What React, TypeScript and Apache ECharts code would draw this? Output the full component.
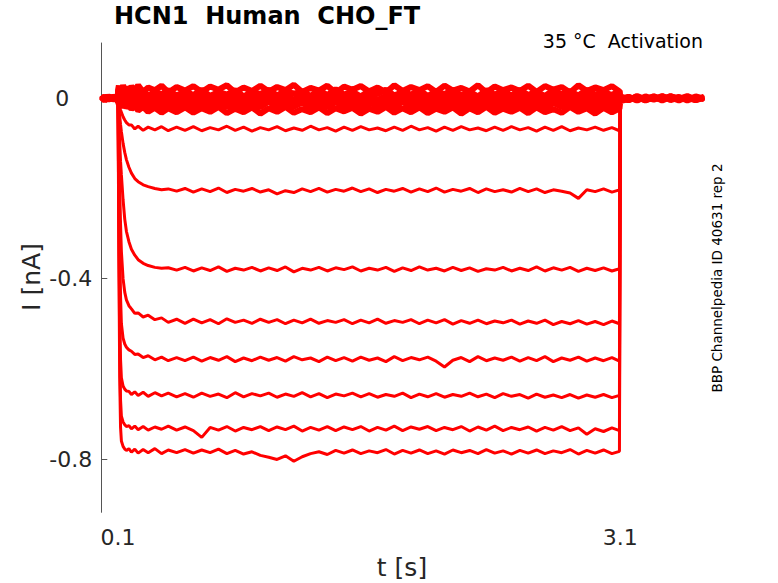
import React, { useEffect, useRef } from "react";
import * as echarts from "echarts";

// time samples [s]
const PRE_T = [0, 0.02, 0.04, 0.06, 0.08, 0.099];
const ONSET_T = [0.1, 0.105, 0.11, 0.115, 0.12, 0.13, 0.14, 0.15, 0.165, 0.18, 0.2, 0.22, 0.25, 0.28, 0.32, 0.36, 0.4, 0.45];
const PLATEAU_T = [
  0.5, 0.55, 0.6, 0.65, 0.7, 0.75, 0.8, 0.85, 0.9, 0.95,
  1.0, 1.05, 1.1, 1.15, 1.2, 1.25, 1.3, 1.35, 1.4, 1.45,
  1.5, 1.55, 1.6, 1.65, 1.7, 1.75, 1.8, 1.85, 1.9, 1.95,
  2.0, 2.05, 2.1, 2.15, 2.2, 2.25, 2.3, 2.35, 2.4, 2.45,
  2.5, 2.55, 2.6, 2.65, 2.7, 2.75, 2.8, 2.85, 2.9, 2.95,
  3.0, 3.05, 3.095,
];
const POST_T = [3.1, 3.15, 3.2, 3.25, 3.3, 3.35, 3.4, 3.45, 3.5, 3.55, 3.6];
const T = [...PRE_T, ...ONSET_T, ...PLATEAU_T, ...POST_T];

// currents [nA]
const Z1 = [
  0.004, -0.003, 0.005, -0.002, 0.003, 0.001,
  0.018, 0.028, 0.014, 0.026, 0.015, 0.029, 0.017, 0.025, 0.013,
  0.027, 0.016, 0.029, 0.014, 0.024, 0.018, 0.028, 0.013, 0.025,
  0.017, 0.027, 0.014, 0.026, 0.019, 0.029, 0.013, 0.024, 0.016, 0.028,
  0.015, 0.025, 0.018, 0.030, 0.014, 0.023, 0.017, 0.028, 0.012, 0.026,
  0.019, 0.027, 0.015, 0.024, 0.013, 0.029, 0.016, 0.025, 0.018, 0.027,
  0.014, 0.028, 0.017, 0.023, 0.015, 0.029, 0.013, 0.026, 0.018, 0.024,
  0.016, 0.028, 0.014, 0.027, 0.019, 0.025, 0.013, 0.029, 0.016, 0.024,
  0.018, 0.027, 0.015,
  0.002, -0.004, 0.005, -0.002, 0.004, -0.005, 0.003, -0.001, 0.005, -0.003, 0.002,
];
const Z2 = [
  -0.002, 0.004, -0.004, 0.003, -0.001, 0.002,
  0.008, 0.017, 0.006, 0.018, 0.009, 0.016, 0.005, 0.019, 0.010,
  0.006, 0.017, 0.008, 0.019, 0.005, 0.015, 0.009, 0.018, 0.006,
  0.016, 0.007, 0.019, 0.005, 0.014, 0.008, 0.018, 0.004, 0.015, 0.009,
  0.019, 0.006, 0.017, 0.010, 0.016, 0.005, 0.018, 0.007, 0.020, 0.008,
  0.015, 0.004, 0.017, 0.009, 0.019, 0.006, 0.014, 0.008, 0.018, 0.005,
  0.016, 0.009, 0.019, 0.006, 0.015, 0.004, 0.018, 0.008, 0.017, 0.006,
  0.019, 0.007, 0.015, 0.005, 0.018, 0.009, 0.016, 0.006, 0.019, 0.008,
  0.014, 0.007, 0.017,
  -0.003, 0.003, -0.005, 0.004, -0.002, 0.005, -0.004, 0.002, -0.003, 0.004, -0.001,
];
const Z3 = [
  0.003, -0.005, 0.002, -0.003, 0.005, -0.001,
  0.007, -0.004, 0.009, -0.002, 0.006, -0.005, 0.008, -0.001, 0.010,
  -0.004, 0.007, -0.003, 0.009, -0.005, 0.006, -0.002, 0.010, -0.004,
  0.008, -0.003, 0.010, -0.005, 0.006, -0.002, 0.009, -0.004, 0.007, -0.001,
  0.010, -0.005, 0.006, -0.003, 0.009, -0.002, 0.011, -0.004, 0.007, -0.005,
  0.008, -0.001, 0.010, -0.004, 0.006, -0.006, 0.009, -0.002, 0.007, -0.004,
  0.011, -0.003, 0.008, -0.005, 0.006, -0.001, 0.010, -0.004, 0.007, -0.002,
  0.009, -0.005, 0.006, -0.003, 0.010, -0.002, 0.008, -0.006, 0.007, -0.001,
  0.009, -0.004, 0.006,
  0.004, -0.002, 0.003, -0.005, 0.002, -0.003, 0.005, -0.002, 0.003, -0.004, 0.001,
];
const Z4 = [
  -0.004, 0.002, -0.003, 0.004, -0.002, 0.001,
  -0.010, -0.001, -0.012, 0.000, -0.009, -0.013, -0.002, -0.011, 0.001,
  -0.012, -0.003, -0.010, 0.001, -0.013, -0.002, -0.011, -0.001, -0.014,
  -0.002, -0.012, 0.001, -0.010, -0.003, -0.013, 0.000, -0.009, -0.002, -0.014,
  -0.001, -0.011, 0.002, -0.012, -0.003, -0.010, 0.000, -0.013, -0.002, -0.011,
  0.001, -0.012, -0.003, -0.014, -0.001, -0.010, 0.002, -0.011, -0.002, -0.013,
  0.000, -0.012, -0.003, -0.010, 0.001, -0.013, -0.002, -0.011, 0.000, -0.014,
  -0.001, -0.010, 0.002, -0.012, -0.003, -0.013, 0.000, -0.011, -0.002, -0.012,
  0.001, -0.010, -0.003,
  -0.002, 0.003, -0.004, 0.002, -0.003, 0.004, -0.001, 0.003, -0.005, 0.002, -0.002,
];
const Z5 = [
  0.002, -0.004, 0.003, -0.002, 0.004, -0.003,
  -0.006, -0.014, -0.008, -0.019, -0.010, -0.021, -0.011, -0.019, -0.012,
  -0.022, -0.010, -0.020, -0.012, -0.023, -0.009, -0.021, -0.011, -0.022,
  -0.009, -0.021, -0.011, -0.023, -0.008, -0.019, -0.012, -0.022, -0.010, -0.020,
  -0.007, -0.022, -0.011, -0.019, -0.009, -0.023, -0.012, -0.020, -0.008, -0.021,
  -0.010, -0.023, -0.009, -0.019, -0.012, -0.021, -0.007, -0.022, -0.010, -0.020,
  -0.011, -0.023, -0.008, -0.021, -0.010, -0.019, -0.012, -0.022, -0.009, -0.020,
  -0.011, -0.022, -0.008, -0.024, -0.010, -0.019, -0.012, -0.021, -0.009, -0.023,
  -0.010, -0.020, -0.012,
  0.001, -0.004, 0.003, -0.003, 0.004, -0.002, 0.002, -0.005, 0.003, -0.002, 0.002,
];
const Z6 = [
  -0.003, 0.004, -0.001, 0.003, -0.004, 0.002,
  -0.004, -0.012, -0.007, -0.015, -0.010, -0.018, -0.013, -0.021, -0.015,
  -0.024, -0.017, -0.027, -0.019, -0.030, -0.021, -0.032, -0.022, -0.031,
  -0.020, -0.032, -0.022, -0.030, -0.019, -0.033, -0.023, -0.031, -0.020, -0.034,
  -0.022, -0.030, -0.019, -0.032, -0.024, -0.031, -0.020, -0.033, -0.022, -0.029,
  -0.021, -0.034, -0.023, -0.030, -0.019, -0.032, -0.022, -0.031, -0.020, -0.033,
  -0.023, -0.030, -0.020, -0.034, -0.022, -0.031, -0.019, -0.032, -0.023, -0.030,
  -0.021, -0.033, -0.020, -0.031, -0.024, -0.032, -0.019, -0.030, -0.022, -0.034,
  -0.021, -0.031, -0.023,
  -0.006, -0.002, 0.003, -0.004, 0.002, -0.003, 0.004, -0.002, 0.001, -0.004, 0.003,
];
const TA = [
  0.002, -0.003, 0.004, -0.002, 0.003, -0.001,
  -0.005, -0.013, -0.020, -0.026, -0.031, -0.041, -0.048, -0.054, -0.059,
  -0.059, -0.068, -0.062, -0.071, -0.064, -0.070, -0.063, -0.072, -0.064,
  -0.071, -0.063, -0.072, -0.065, -0.070, -0.062, -0.071, -0.064, -0.073, -0.065,
  -0.070, -0.063, -0.072, -0.066, -0.071, -0.062, -0.070, -0.065, -0.073, -0.064,
  -0.071, -0.063, -0.070, -0.066, -0.072, -0.064, -0.071, -0.062, -0.070, -0.065,
  -0.073, -0.064, -0.071, -0.063, -0.070, -0.066, -0.072, -0.064, -0.071, -0.063,
  -0.070, -0.065, -0.073, -0.064, -0.071, -0.063, -0.072, -0.066, -0.070, -0.064,
  -0.071, -0.065, -0.072,
  -0.004, 0.002, -0.003, 0.004, -0.002, 0.003, -0.004, 0.001, -0.003, 0.004, -0.002,
];
const TB = [
  -0.002, 0.003, -0.004, 0.002, -0.003, 0.001,
  -0.006, -0.022, -0.040, -0.058, -0.074, -0.100, -0.120, -0.136, -0.153,
  -0.166, -0.178, -0.185, -0.192, -0.196, -0.200, -0.203, -0.201, -0.206,
  -0.200, -0.208, -0.201, -0.207, -0.199, -0.209, -0.202, -0.206, -0.200, -0.208,
  -0.203, -0.212, -0.205, -0.209, -0.201, -0.207, -0.200, -0.208, -0.202, -0.206,
  -0.199, -0.207, -0.201, -0.209, -0.202, -0.206, -0.200, -0.208, -0.201, -0.207,
  -0.199, -0.208, -0.202, -0.206, -0.200, -0.209, -0.201, -0.207, -0.203, -0.208,
  -0.200, -0.207, -0.201, -0.209, -0.203, -0.206, -0.210, -0.222, -0.203, -0.207,
  -0.201, -0.208, -0.203,
  -0.006, 0.003, -0.002, 0.004, -0.003, 0.002, -0.004, 0.003, -0.002, 0.004, -0.001,
];
const TC = [
  0.003, -0.002, 0.004, -0.003, 0.002, -0.001,
  -0.010, -0.055, -0.100, -0.140, -0.170, -0.225, -0.268, -0.295, -0.318,
  -0.335, -0.348, -0.358, -0.366, -0.371, -0.375, -0.377, -0.376, -0.381,
  -0.375, -0.383, -0.376, -0.382, -0.374, -0.384, -0.377, -0.381, -0.375, -0.383,
  -0.376, -0.382, -0.374, -0.385, -0.377, -0.381, -0.375, -0.383, -0.376, -0.380,
  -0.374, -0.383, -0.377, -0.381, -0.375, -0.384, -0.376, -0.382, -0.374, -0.381,
  -0.377, -0.383, -0.375, -0.382, -0.376, -0.384, -0.378, -0.381, -0.375, -0.383,
  -0.377, -0.382, -0.374, -0.383, -0.376, -0.381, -0.375, -0.384, -0.377, -0.382,
  -0.376, -0.383, -0.378,
  -0.004, 0.002, -0.003, 0.003, -0.002, 0.004, -0.003, 0.002, -0.004, 0.003, -0.001,
];
const TD = [
  -0.003, 0.002, -0.002, 0.004, -0.003, 0.001,
  -0.010, -0.100, -0.200, -0.280, -0.340, -0.400, -0.430, -0.447, -0.460,
  -0.467, -0.477, -0.476, -0.485, -0.481, -0.491, -0.487, -0.497, -0.490,
  -0.499, -0.490, -0.498, -0.491, -0.500, -0.489, -0.497, -0.492, -0.499, -0.490,
  -0.497, -0.491, -0.500, -0.492, -0.498, -0.490, -0.499, -0.493, -0.497, -0.491,
  -0.500, -0.492, -0.498, -0.490, -0.499, -0.493, -0.497, -0.491, -0.500, -0.492,
  -0.498, -0.491, -0.501, -0.493, -0.499, -0.492, -0.500, -0.494, -0.498, -0.492,
  -0.501, -0.494, -0.499, -0.492, -0.502, -0.495, -0.500, -0.493, -0.501, -0.495,
  -0.502, -0.494, -0.500,
  -0.005, 0.003, -0.002, 0.003, -0.004, 0.002, -0.003, 0.004, -0.002, 0.003, -0.002,
];
const TE = [
  0.002, -0.004, 0.003, -0.002, 0.004, -0.002,
  -0.010, -0.170, -0.330, -0.440, -0.500, -0.532, -0.545, -0.552, -0.558,
  -0.561, -0.568, -0.567, -0.575, -0.571, -0.580, -0.574, -0.582, -0.575,
  -0.582, -0.574, -0.583, -0.575, -0.581, -0.573, -0.584, -0.576, -0.582, -0.574,
  -0.581, -0.575, -0.583, -0.573, -0.580, -0.576, -0.584, -0.574, -0.582, -0.575,
  -0.583, -0.574, -0.581, -0.576, -0.584, -0.573, -0.582, -0.575, -0.580, -0.574,
  -0.583, -0.596, -0.581, -0.575, -0.584, -0.573, -0.582, -0.576, -0.581, -0.574,
  -0.583, -0.575, -0.582, -0.573, -0.584, -0.576, -0.581, -0.574, -0.583, -0.576,
  -0.582, -0.575, -0.583,
  -0.003, 0.004, -0.002, 0.003, -0.004, 0.002, -0.003, 0.004, -0.002, 0.002, -0.003,
];
const TF = [
  -0.002, 0.003, -0.003, 0.002, -0.004, 0.002,
  -0.020, -0.250, -0.480, -0.580, -0.620, -0.638, -0.645, -0.649, -0.650,
  -0.657, -0.651, -0.659, -0.652, -0.661, -0.653, -0.660, -0.654, -0.662,
  -0.655, -0.663, -0.654, -0.661, -0.656, -0.664, -0.653, -0.662, -0.655, -0.660,
  -0.654, -0.663, -0.656, -0.661, -0.653, -0.662, -0.655, -0.664, -0.656, -0.660,
  -0.654, -0.662, -0.655, -0.663, -0.657, -0.661, -0.654, -0.664, -0.656, -0.662,
  -0.655, -0.663, -0.657, -0.661, -0.654, -0.662, -0.656, -0.664, -0.655, -0.661,
  -0.657, -0.665, -0.656, -0.663, -0.658, -0.664, -0.657, -0.665, -0.658, -0.663,
  -0.657, -0.664, -0.659,
  -0.004, 0.002, -0.003, 0.004, -0.002, 0.003, -0.004, 0.002, -0.003, 0.003, -0.001,
];
const TG = [
  0.003, -0.002, 0.004, -0.003, 0.002, -0.002,
  -0.020, -0.300, -0.550, -0.670, -0.705, -0.718, -0.724, -0.728, -0.726,
  -0.733, -0.727, -0.735, -0.728, -0.736, -0.729, -0.734, -0.727, -0.736,
  -0.729, -0.737, -0.752, -0.730, -0.736, -0.728, -0.738, -0.730, -0.735, -0.728,
  -0.737, -0.729, -0.735, -0.727, -0.738, -0.730, -0.736, -0.728, -0.737, -0.729,
  -0.735, -0.728, -0.738, -0.730, -0.736, -0.727, -0.737, -0.729, -0.734, -0.728,
  -0.737, -0.730, -0.735, -0.728, -0.738, -0.729, -0.736, -0.727, -0.737, -0.730,
  -0.735, -0.729, -0.738, -0.730, -0.736, -0.728, -0.737, -0.731, -0.745, -0.733,
  -0.739, -0.731, -0.737,
  -0.005, 0.003, -0.002, 0.004, -0.003, 0.002, -0.004, 0.003, -0.002, 0.004, -0.002,
];
const TH = [
  -0.002, 0.004, -0.003, 0.002, -0.003, 0.001,
  -0.020, -0.350, -0.620, -0.730, -0.760, -0.772, -0.778, -0.781, -0.777,
  -0.785, -0.778, -0.787, -0.779, -0.786, -0.777, -0.788, -0.780, -0.786,
  -0.779, -0.787, -0.780, -0.786, -0.778, -0.788, -0.781, -0.789, -0.784, -0.792,
  -0.796, -0.801, -0.793, -0.805, -0.795, -0.788, -0.784, -0.790, -0.781, -0.787,
  -0.780, -0.788, -0.782, -0.786, -0.779, -0.789, -0.781, -0.787, -0.780, -0.788,
  -0.782, -0.789, -0.780, -0.786, -0.781, -0.788, -0.779, -0.787, -0.782, -0.789,
  -0.781, -0.787, -0.780, -0.788, -0.782, -0.786, -0.779, -0.789, -0.781, -0.787,
  -0.780, -0.788, -0.783,
  -0.006, 0.002, -0.003, 0.003, -0.002, 0.004, -0.003, 0.002, -0.004, 0.003, -0.002,
];

const ZERO_TRACES = [Z1, Z2, Z3, Z4, Z5, Z6];
const ACTIVE_TRACES = [TA, TB, TC, TD, TE, TF, TG, TH];

const X_TICKS = [0.1, 3.1];
const Y_TICKS = [0, -0.4, -0.8];

const TITLE = "HCN1  Human  CHO_FT";
const SUBTITLE = "35 °C  Activation";
const SIDE_NOTE = "BBP Channelpedia ID 40631 rep 2";

const FONT = "DejaVu Sans";

function toPairs(vals: number[]) {
  const n = Math.min(vals.length, T.length);
  const out: number[][] = [];
  for (let i = 0; i < n; i++) out.push([T[i], vals[i]]);
  return out;
}

export default function App() {
  const ref = useRef<HTMLDivElement>(null);
  useEffect(() => {
    if (!ref.current) return;
    const chart = echarts.init(ref.current, undefined, { renderer: "svg" });
    const series: any[] = [];
    ZERO_TRACES.forEach((tr) =>
      series.push({
        type: "line",
        data: toPairs(tr),
        showSymbol: false,
        lineStyle: { color: "#ff0000", width: 6 },
        itemStyle: { color: "#ff0000" },
        silent: true,
      })
    );
    ACTIVE_TRACES.forEach((tr) =>
      series.push({
        type: "line",
        data: toPairs(tr),
        showSymbol: false,
        lineStyle: { color: "#ff0000", width: 3 },
        itemStyle: { color: "#ff0000" },
        silent: true,
      })
    );
    chart.setOption({
      animation: false,
      backgroundColor: "#ffffff",
      grid: { left: 101.3, top: 43, right: 74, bottom: 70.7 },
      xAxis: {
        type: "value",
        min: 0,
        max: 3.6,
        axisLine: { show: true, lineStyle: { color: "#555555", width: 1 } },
        axisTick: { show: true, inside: true, length: 6, customValues: X_TICKS, lineStyle: { color: "#555555" } },
        axisLabel: {
          customValues: X_TICKS,
          margin: 14,
          color: "#262626",
          fontFamily: FONT,
          fontSize: 22,
          formatter: (v: number) => String(v),
        },
        splitLine: { show: false },
      },
      yAxis: {
        type: "value",
        min: -0.9182,
        max: 0.1226,
        axisLine: { show: true, lineStyle: { color: "#555555", width: 1 } },
        axisTick: { show: true, inside: true, length: 6, customValues: Y_TICKS, lineStyle: { color: "#555555" } },
        axisLabel: {
          customValues: Y_TICKS,
          margin: 9,
          color: "#262626",
          fontFamily: FONT,
          fontSize: 22,
          formatter: (v: number) => (Math.abs(v) < 1e-9 ? "{z|0}" : String(v)),
          rich: { z: { padding: [0, 23, 0, 0], fontSize: 22, fontFamily: FONT, color: "#262626" } },
        },
        splitLine: { show: false },
      },
      graphic: [
        {
          type: "text",
          left: 114,
          top: 4,
          style: { text: TITLE, fontFamily: FONT, fontSize: 24, fontWeight: "bold", fill: "#000000" },
        },
        {
          type: "text",
          x: 703,
          y: 41,
          style: { text: SUBTITLE, fontFamily: FONT, fontSize: 19, fill: "#000000", align: "right", verticalAlign: "middle" },
        },
        {
          type: "text",
          x: 717,
          y: 278,
          rotation: Math.PI / 2,
          style: { text: SIDE_NOTE, fontFamily: FONT, fontSize: 13.5, fill: "#000000", align: "center", verticalAlign: "middle" },
        },
        {
          type: "text",
          x: 402,
          y: 567,
          style: { text: "t [s]", fontFamily: FONT, fontSize: 25, fill: "#262626", align: "center", verticalAlign: "middle" },
        },
        {
          type: "text",
          x: 31,
          y: 277,
          rotation: Math.PI / 2,
          style: { text: "I [nA]", fontFamily: FONT, fontSize: 25, fill: "#262626", align: "center", verticalAlign: "middle" },
        },
      ],
      series,
    });
    return () => chart.dispose();
  }, []);
  return <div ref={ref} style={{ position: "fixed", left: 0, top: 0, width: 778, height: 583 }} />;
}
